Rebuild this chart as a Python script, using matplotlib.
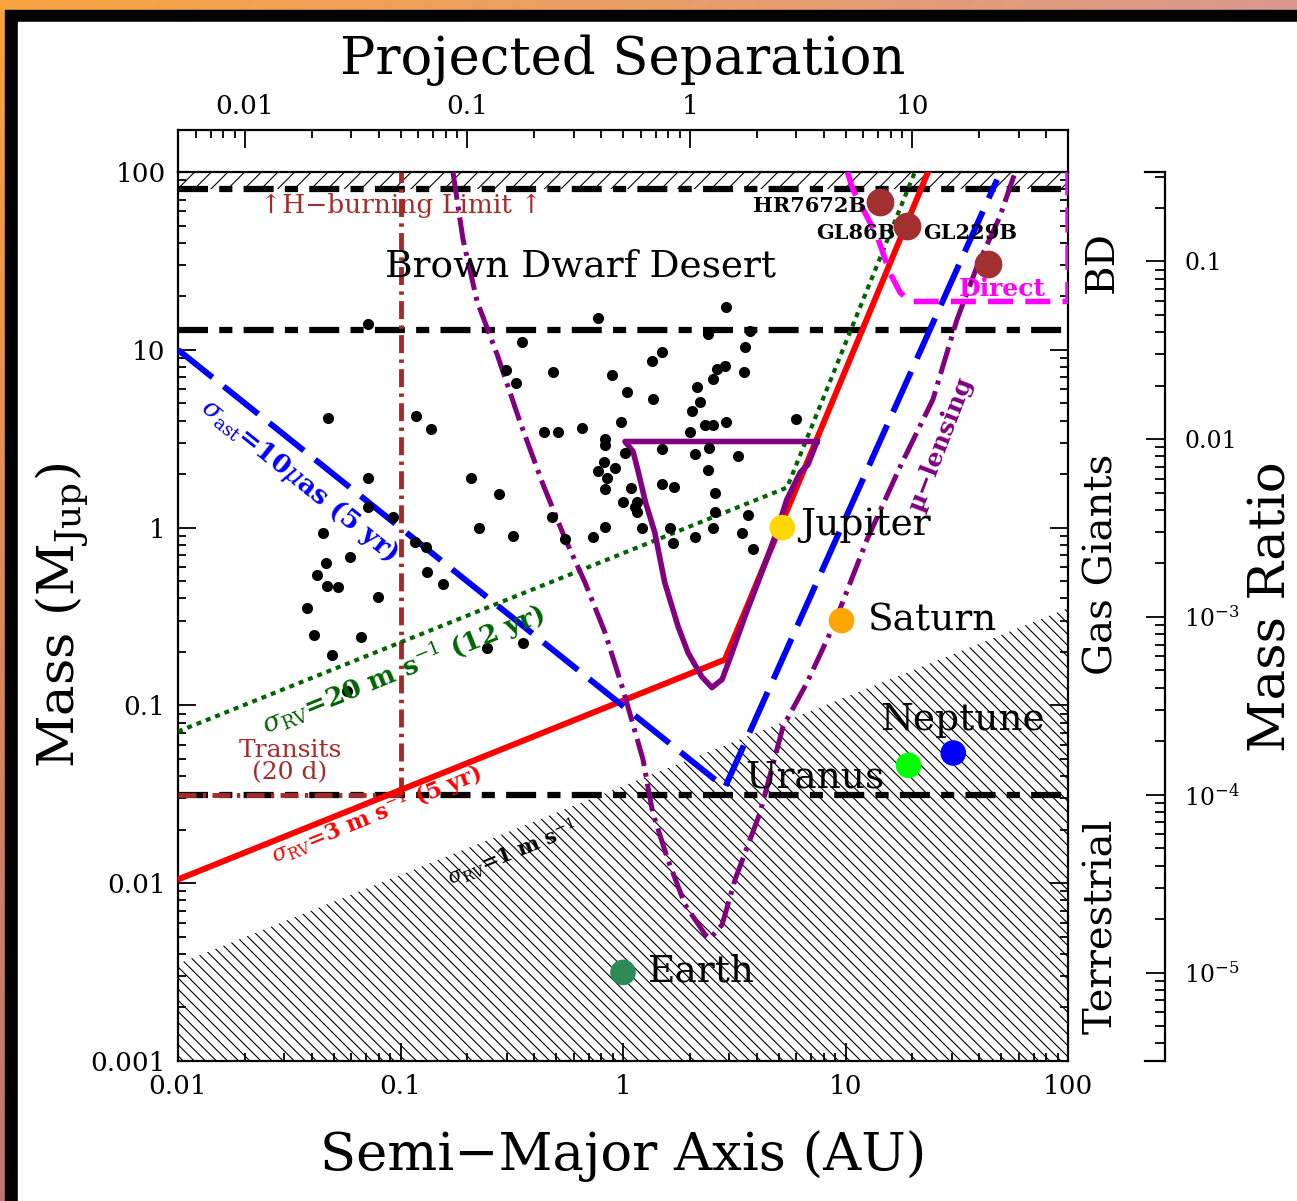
import numpy as np
import matplotlib
matplotlib.use("Agg")
import matplotlib.pyplot as plt
from matplotlib.patches import Rectangle
from matplotlib.ticker import FixedLocator, FixedFormatter, LogLocator, NullFormatter

plt.rcParams['font.family'] = ['DejaVu Serif', 'DejaVu Sans']
plt.rcParams['mathtext.fontset'] = 'dejavuserif'
plt.rcParams['hatch.linewidth'] = 0.8

# ---------------------------------------------------------------- data
# known radial-velocity planets: semi-major axis (AU), M sin i (M_Jup)
exo_a = [0.0714, 0.352, 0.298, 0.330, 0.485, 0.0472, 0.117, 0.137, 0.442, 0.0714,
         0.207, 0.277, 2.90, 0.772, 2.41, 3.72, 3.53, 1.50, 1.35, 0.893,
         2.87, 2.64, 2.54, 3.50, 2.15, 1.04, 1.36, 2.22, 2.04, 0.98,
         0.511, 0.654, 2.34, 2.54, 2.90, 6.0, 2.0, 0.830, 0.830, 1.50,
         2.11, 2.44, 3.29, 1.02, 0.822, 0.772, 0.920, 0.848, 2.41, 1.50,
         1.69, 0.830, 1.09, 2.59, 1.0, 1.16, 0.0714, 0.0925, 0.0448, 0.225,
         0.320, 0.0593, 0.0463, 0.116, 0.130, 0.0421, 0.0468, 0.0524, 0.132, 0.155,
         0.0792, 0.0380, 0.0409, 0.0664, 0.0492, 0.245, 0.355, 0.0575, 1.13, 0.480,
         0.830, 0.733, 0.549, 1.22, 1.63, 2.59, 3.65, 2.54, 2.11, 1.68,
         3.43, 3.84, 1.16]
exo_m = [14.0, 11.1, 7.74, 6.54, 7.54, 4.16, 4.27, 3.60, 3.47, 1.91,
         1.91, 1.55, 17.3, 15.0, 12.2, 12.8, 10.4, 9.77, 8.70, 7.25,
         8.15, 7.84, 6.89, 7.54, 6.21, 5.82, 5.32, 5.11, 4.55, 3.95,
         3.47, 3.65, 3.80, 3.80, 3.95, 4.10, 3.47, 3.17, 2.93, 2.78,
         2.61, 2.82, 2.54, 2.64, 2.35, 2.09, 2.15, 1.91, 2.12, 1.77,
         1.70, 1.64, 1.68, 1.57, 1.40, 1.40, 1.30, 1.15, 0.937, 1.0,
         0.902, 0.687, 0.636, 0.834, 0.782, 0.544, 0.472, 0.466, 0.566, 0.484,
         0.409, 0.355, 0.250, 0.244, 0.191, 0.211, 0.223, 0.120, 1.31, 1.15,
         1.01, 0.890, 0.867, 1.0, 1.0, 1.23, 1.17, 1.0, 0.890, 0.824,
         0.937, 0.762, 1.23]

# solar system planets
ss_names = ['Earth', 'Jupiter', 'Saturn', 'Uranus', 'Neptune']
ss_a = [1.0, 5.2, 9.6, 19.2, 30.5]
ss_m = [0.00315, 1.0, 0.30, 0.046, 0.054]
ss_colors = ['#2e8b57', '#ffd700', '#ffa500', '#00ff00', '#0000ff']

# brown dwarf companions
bd_names = ['HR7672B', 'GL86B', 'GL229B']
bd_a = [14.3, 18.9, 43.6]
bd_m = [67.8, 49.7, 30.4]

# mass boundaries (M_Jup) and transit limit (AU)
h_burning = 80.0
d_burning = 13.0
ten_earth = 0.0315
top_mass = 100.0
transit_a = 0.1

# detection thresholds
rv1_a, rv1_m = [0.01, 100.0], [0.00352, 0.352]
rv3_a, rv3_m = [0.01, 2.87, 23.5], [0.0105, 0.181, 100.0]
rv20_a, rv20_m = [0.01, 5.46, 20.5], [0.0713, 1.68, 100.0]
ast_a, ast_m = [0.01, 2.87, 48.0], [10.0, 0.0345, 90.6]
kep_a = [7.45, 1.02, 1.11, 1.17, 1.26, 1.39, 1.54, 1.77, 1.96, 2.26, 2.51,
         2.79, 3.09, 3.53, 4.04, 4.82, 5.45, 6.25, 6.78, 7.45]
kep_m = [3.05, 3.05, 2.68, 2.07, 1.40, 0.937, 0.491, 0.277, 0.198, 0.145, 0.126,
         0.140, 0.198, 0.316, 0.491, 0.890, 1.44, 2.04, 2.26, 3.05]
lens_a = [0.172, 0.191, 0.221, 0.272, 0.344, 0.437, 0.549, 0.675, 0.830, 1.0,
          1.23, 1.36, 1.59, 1.90, 2.34, 2.46, 2.79, 3.19, 4.13, 5.24,
          6.71, 8.79, 12.5, 17.6, 24.7, 31.7, 39.0, 49.4, 57.8]
lens_m = [100.0, 41.7, 18.7, 9.40, 3.95, 1.75, 0.867, 0.491, 0.257, 0.123,
          0.0496, 0.0249, 0.0136, 0.00758, 0.00514, 0.00488, 0.00585, 0.0105, 0.0249, 0.0760,
          0.134, 0.277, 0.857, 2.20, 5.25, 14.8, 29.4, 56.1, 99.3]
direct_a = [10.2, 10.8, 13.9, 15.8, 17.6, 19.5, 100.0, 100.0]
direct_m = [100.0, 79.6, 43.3, 27.2, 21.0, 18.7, 18.7, 100.0]

# axis ticks
x_ticks = [0.01, 0.1, 1, 10, 100]
x_labels = ['0.01', '0.1', '1', '10', '100']
y_ticks = [0.001, 0.01, 0.1, 1, 10, 100]
y_labels = ['0.001', '0.01', '0.1', '1', '10', '100']
sep_ticks = [0.01, 0.1, 1, 10]
sep_labels = ['0.01', '0.1', '1', '10']
q_ticks = [1e-5, 1e-4, 1e-3, 0.01, 0.1]
q_labels = ['$10^{-5}$', '$10^{-4}$', '$10^{-3}$', '0.01', '0.1']
sep_factor = 0.5        # projected separation / semi-major axis
star_mjup = 314.3       # host mass in M_Jup for the mass ratio scale

BROWN = '#a52a2a'
PURPLE = '#800080'

W, H = 1297, 1201
fig = plt.figure(figsize=(W / 100, H / 100), dpi=100)


def fx(px):
    return px / W


def fy(py):
    return 1 - py / H


# ---------------------------------------------------------------- frame
bg = fig.add_axes([0, 0, 1, 1], zorder=-10)
bg.axis('off')
gx = np.linspace(0, 1, 256)[None, :, None]
gy = np.linspace(0, 1, 256)[:, None, None]
c_tl = np.array([0.97, 0.64, 0.25])
c_tr = np.array([0.86, 0.60, 0.56])
c_bl = np.array([0.75, 0.45, 0.45])
grad = np.clip(c_tl + (c_tr - c_tl) * gx + (c_bl - c_tl) * gy, 0, 1)
bg.imshow(grad, extent=(0, 1, 0, 1), aspect='auto', origin='upper')
bg.add_patch(Rectangle((fx(5), 0), 1, fy(10), color='black'))
bg.add_patch(Rectangle((fx(18), 0), 1, fy(22), color='white'))
bg.set_xlim(0, 1)
bg.set_ylim(0, 1)

# ---------------------------------------------------------------- main panel
ax = fig.add_axes([fx(178), fy(1061), (1068 - 178) / W, (1061 - 172) / H])
ax.set_xscale('log')
ax.set_yscale('log')
ax.set_xlim(x_ticks[0], x_ticks[-1])
ax.set_ylim(y_ticks[0], y_ticks[-1])

# hatched zones: below 1 m/s RV and above the H-burning limit
ax.fill_between(rv1_a, y_ticks[0], rv1_m, facecolor='none', edgecolor='black',
                hatch='\\\\\\', linewidth=0, zorder=1)
ax.fill_between(x_ticks[::4], h_burning, top_mass, facecolor='none', edgecolor='black',
                hatch='//', linewidth=0, zorder=1)

dash_dot_long = (0, (4.8, 1.8, 2.1, 1.8))
for level in (h_burning, d_burning, ten_earth):
    ax.plot(x_ticks[::4], [level, level], color='black', lw=4.5, ls=dash_dot_long, zorder=2)

brown_ls = (0, (3.7, 1.3, 0.7, 1.3))
ax.plot([transit_a, transit_a], [ten_earth, top_mass], color=BROWN, lw=3.5, ls=brown_ls, zorder=3)
ax.plot([x_ticks[0], transit_a], [ten_earth, ten_earth], color=BROWN, lw=3.5, ls=brown_ls, zorder=3)

ax.plot(rv3_a, rv3_m, color='red', lw=4.3, zorder=3)
ax.plot(rv20_a, rv20_m, color='#006400', lw=3, ls=(0, (1.2, 1.2)), zorder=3)
ax.plot(ast_a, ast_m, color='blue', lw=4.3, ls=(0, (7.4, 2.4)), zorder=3)
ax.plot(kep_a, kep_m, color=PURPLE, lw=4, zorder=3, solid_joinstyle='round')
ax.plot(lens_a, lens_m, color=PURPLE, lw=3.6, ls=(0, (5.6, 1.4, 0.8, 1.4)), zorder=3)
ax.plot(direct_a, direct_m, color='magenta', lw=4, ls=(0, (4.5, 2.2)), zorder=3)

ax.scatter(exo_a, exo_m, s=64, color='black', zorder=4, linewidths=0)
ax.scatter(ss_a, ss_m, s=340, c=ss_colors, zorder=5, linewidths=0)
ax.scatter(bd_a, bd_m, s=400, color='#a33030', zorder=5, linewidths=0)

# labels inside the panel
ax.text(0.641, 29.4, 'Brown Dwarf Desert', fontsize=27, ha='center', va='center', zorder=6)
ax.text(0.1005, 64.7, '\u2191H\u2212burning Limit \u2191', fontsize=19, color=BROWN,
        ha='center', va='center', zorder=6)
ax.text(12.4, 64.7, bd_names[0], fontsize=15, fontweight='bold', ha='right', va='center', zorder=6)
ax.text(16.7, 45.6, bd_names[1], fontsize=15, fontweight='bold', ha='right', va='center', zorder=6)
ax.text(22.3, 45.6, bd_names[2], fontsize=15, fontweight='bold', ha='left', va='center', zorder=6)
ax.text(50.5, 22.1, 'Direct', fontsize=18, fontweight='bold', color='magenta',
        ha='center', va='center', zorder=6)
ax.text(6.25, 1.04, 'Jupiter', fontsize=27, ha='left', va='center', zorder=6)
ax.text(12.6, 0.30, 'Saturn', fontsize=27, ha='left', va='center', zorder=6)
ax.text(14.3, 0.0832, 'Neptune', fontsize=27, ha='left', va='center', zorder=6)
ax.text(3.53, 0.0393, 'Uranus', fontsize=27, ha='left', va='center', zorder=6)
ax.text(1.30, 0.00318, 'Earth', fontsize=27, ha='left', va='center', zorder=6)
ax.text(0.0319, 0.0483, 'Transits\n(20 d)', fontsize=18, color=BROWN, ha='center',
        va='center', linespacing=1.0, zorder=6)
ax.text(0.0353, 1.85, r'$\sigma_{\rm ast}$=10$\mu$as (5 yr)', fontsize=19, color='blue',
        fontweight='bold', rotation=-38.7, rotation_mode='anchor', ha='center', va='center', zorder=6)
ax.text(0.1026, 0.160, r'$\sigma_{\rm RV}$=20 m s$^{-1}$ (12 yr)', fontsize=19, color='#006400',
        fontweight='bold', rotation=22, rotation_mode='anchor', ha='center', va='center', zorder=6)
ax.text(0.0776, 0.0245, r'$\sigma_{\rm RV}$=3 m s$^{-1}$ (5 yr)', fontsize=16, color='red',
        fontweight='bold', rotation=22, rotation_mode='anchor', ha='center', va='center', zorder=6)
ax.text(0.317, 0.01486, r'$\sigma_{\rm RV}$=1 m s$^{-1}$', fontsize=15, color='black',
        fontweight='bold', rotation=22, rotation_mode='anchor', ha='center', va='center', zorder=6)
ax.text(26.6, 2.93, '\u00b5\u2212lensing', fontsize=18, color=PURPLE, fontweight='bold',
        rotation=69, rotation_mode='anchor', ha='center', va='center', zorder=6)

ax.xaxis.set_major_locator(FixedLocator(x_ticks))
ax.xaxis.set_major_formatter(FixedFormatter(x_labels))
ax.yaxis.set_major_locator(FixedLocator(y_ticks))
ax.yaxis.set_major_formatter(FixedFormatter(y_labels))
for axis in (ax.xaxis, ax.yaxis):
    axis.set_minor_locator(LogLocator(base=10, subs=np.arange(2, 10)))
    axis.set_minor_formatter(NullFormatter())
ax.tick_params(which='both', direction='in', top=False, right=True, width=1.3)
ax.tick_params(which='major', length=13, labelsize=19, pad=9)
ax.tick_params(which='minor', length=6)
for sp in ax.spines.values():
    sp.set_linewidth(1.6)

# ---------------------------------------------------------------- projected separation strip
axt = fig.add_axes([fx(178), fy(172), (1068 - 178) / W, (172 - 130) / H])
axt.set_xscale('log')
axt.set_xlim(x_ticks[0] * sep_factor, x_ticks[-1] * sep_factor)
axt.set_yticks([])
axt.spines['bottom'].set_visible(False)
for sp in axt.spines.values():
    sp.set_linewidth(1.6)
axt.patch.set_alpha(0)
axt.xaxis.set_major_locator(FixedLocator(sep_ticks))
axt.xaxis.set_major_formatter(FixedFormatter(sep_labels))
axt.xaxis.set_minor_locator(LogLocator(base=10, subs=np.arange(2, 10)))
axt.xaxis.set_minor_formatter(NullFormatter())
axt.tick_params(axis='x', which='both', direction='in', top=True, bottom=False,
                labeltop=True, labelbottom=False, width=1.3)
axt.tick_params(axis='x', which='major', length=13, labelsize=19, pad=8)
axt.tick_params(axis='x', which='minor', length=6)

# ---------------------------------------------------------------- mass ratio scale
axr = fig.add_axes([fx(1145), fy(1061), 20 / W, (1061 - 172) / H])
axr.set_yscale('log')
axr.set_ylim(y_ticks[0] / star_mjup, y_ticks[-1] / star_mjup)
axr.set_xticks([])
axr.spines['left'].set_visible(False)
for sp in axr.spines.values():
    sp.set_linewidth(1.6)
axr.patch.set_alpha(0)
axr.yaxis.set_major_locator(FixedLocator(q_ticks))
axr.yaxis.set_major_formatter(FixedFormatter(q_labels))
axr.yaxis.set_minor_locator(LogLocator(base=10, subs=np.arange(2, 10)))
axr.yaxis.set_minor_formatter(NullFormatter())
axr.tick_params(axis='y', which='both', direction='in', left=False, right=True,
                labelleft=False, labelright=True, width=1.3)
axr.tick_params(axis='y', which='major', length=14, labelsize=17, pad=14)
axr.tick_params(axis='y', which='minor', length=7)

# ---------------------------------------------------------------- titles and regime labels
fig.text(fx(623), fy(60), 'Projected Separation', fontsize=38, ha='center', va='center')
fig.text(fx(623), fy(1156), 'Semi\u2212Major Axis (AU)', fontsize=38, ha='center', va='center')
fig.text(fx(62), fy(615), r'Mass (M$_{\rm Jup}$)', fontsize=37, rotation=90, ha='center', va='center')
fig.text(fx(1272), fy(607), 'Mass Ratio', fontsize=37, rotation=90, ha='center', va='center')
fig.text(fx(1102), fy(262), 'BD', fontsize=29, rotation=90, ha='center', va='center')
fig.text(fx(1102), fy(564), 'Gas Giants', fontsize=29, rotation=90, ha='center', va='center')
fig.text(fx(1102), fy(926), 'Terrestrial', fontsize=29, rotation=90, ha='center', va='center')

fig.savefig('out.png', dpi=100)
